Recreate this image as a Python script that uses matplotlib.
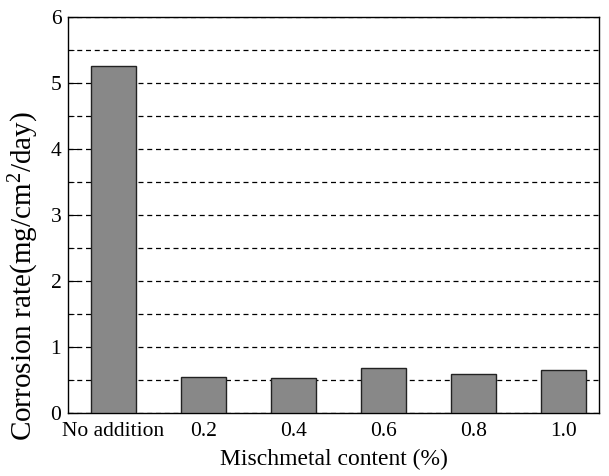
import numpy as np
import matplotlib.pyplot as plt
from matplotlib.ticker import MultipleLocator

plt.rcParams['font.family'] = ['Liberation Serif', 'DejaVu Serif']
plt.rcParams['mathtext.fontset'] = 'custom'
plt.rcParams['mathtext.rm'] = 'Liberation Serif'

# data
categories = ['No addition', '0.2', '0.4', '0.6', '0.8', '1.0']
rates = [5.25, 0.55, 0.53, 0.68, 0.60, 0.66]

fig = plt.figure(figsize=(6.09, 4.76), dpi=100)
ax = fig.add_axes([0.112, 0.132, 0.872, 0.833])

x = np.arange(len(categories))
ax.bar(x, rates, width=0.5, color='#888888', edgecolor='#222222',
       linewidth=1.0, zorder=3)

ax.set_xlim(-0.5, 5.4)
ax.set_ylim(0, 6)
ax.set_xticks(x)
ax.set_xticklabels(categories)
ax.yaxis.set_major_locator(MultipleLocator(1))
ax.yaxis.set_minor_locator(MultipleLocator(0.5))

# dashed horizontal grid every 0.5
ax.grid(True, axis='y', which='both', linestyle=(0, (4, 3)),
        color='black', linewidth=0.9, zorder=0)

ax.tick_params(axis='both', which='both', direction='in', labelsize=15.5)
ax.tick_params(axis='y', which='major', length=7, pad=5)
ax.tick_params(axis='y', which='minor', length=4)
ax.tick_params(axis='x', which='major', length=6, pad=6)
ax.tick_params(axis='x', which='minor', bottom=False)

ax.set_xlabel('Mischmetal content (%)', fontsize=17, labelpad=6)
ax.set_ylabel('Corrosion rate(mg/cm$\\mathrm{^2}$/day)', fontsize=21)
ax.yaxis.set_label_coords(-0.052, 0.345)

for s in ax.spines.values():
    s.set_linewidth(1.0)

fig.savefig('out.png', dpi=100)
